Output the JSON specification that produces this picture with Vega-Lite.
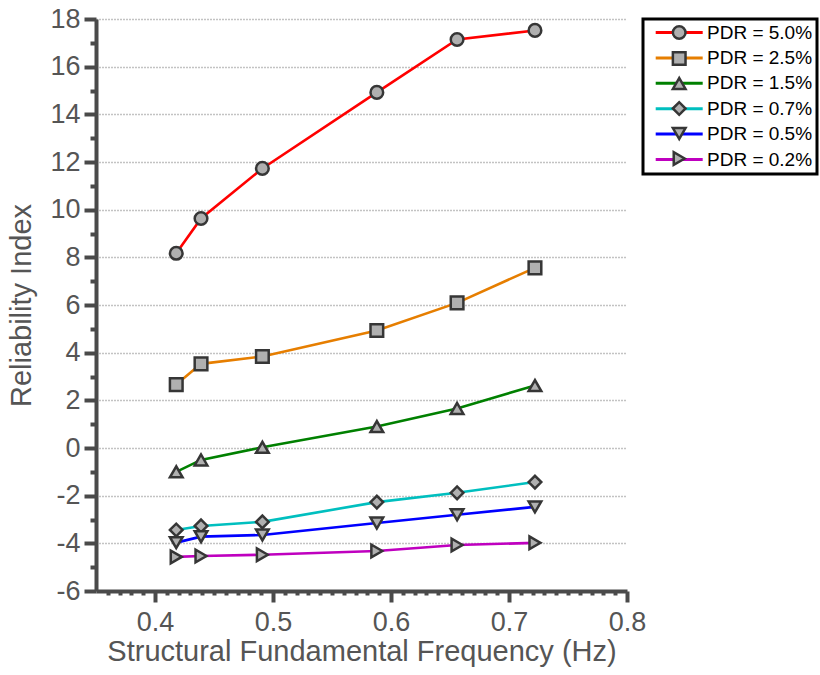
{
  "$schema": "https://vega.github.io/schema/vega-lite/v6.json",
  "width": 531,
  "height": 572,
  "autosize": {"type": "none"},
  "padding": {"left": 96, "top": 19, "right": 193, "bottom": 84},
  "background": "white",
  "config": {
    "view": {"stroke": null},
    "font": "Liberation Sans"
  },
  "data": {
    "values": [
      {"series": "PDR = 5.0%", "freq": 0.418, "beta": 8.17},
      {"series": "PDR = 5.0%", "freq": 0.439, "beta": 9.63},
      {"series": "PDR = 5.0%", "freq": 0.491, "beta": 11.73},
      {"series": "PDR = 5.0%", "freq": 0.588, "beta": 14.92},
      {"series": "PDR = 5.0%", "freq": 0.656, "beta": 17.14},
      {"series": "PDR = 5.0%", "freq": 0.722, "beta": 17.52},
      {"series": "PDR = 2.5%", "freq": 0.418, "beta": 2.66},
      {"series": "PDR = 2.5%", "freq": 0.439, "beta": 3.53},
      {"series": "PDR = 2.5%", "freq": 0.491, "beta": 3.84},
      {"series": "PDR = 2.5%", "freq": 0.588, "beta": 4.93},
      {"series": "PDR = 2.5%", "freq": 0.656, "beta": 6.09},
      {"series": "PDR = 2.5%", "freq": 0.722, "beta": 7.56},
      {"series": "PDR = 1.5%", "freq": 0.418, "beta": -1.0},
      {"series": "PDR = 1.5%", "freq": 0.439, "beta": -0.5},
      {"series": "PDR = 1.5%", "freq": 0.491, "beta": 0.03},
      {"series": "PDR = 1.5%", "freq": 0.588, "beta": 0.9},
      {"series": "PDR = 1.5%", "freq": 0.656, "beta": 1.66},
      {"series": "PDR = 1.5%", "freq": 0.722, "beta": 2.62},
      {"series": "PDR = 0.7%", "freq": 0.418, "beta": -3.44},
      {"series": "PDR = 0.7%", "freq": 0.439, "beta": -3.27},
      {"series": "PDR = 0.7%", "freq": 0.491, "beta": -3.1},
      {"series": "PDR = 0.7%", "freq": 0.588, "beta": -2.27},
      {"series": "PDR = 0.7%", "freq": 0.656, "beta": -1.88},
      {"series": "PDR = 0.7%", "freq": 0.722, "beta": -1.43},
      {"series": "PDR = 0.5%", "freq": 0.418, "beta": -3.97},
      {"series": "PDR = 0.5%", "freq": 0.439, "beta": -3.72},
      {"series": "PDR = 0.5%", "freq": 0.491, "beta": -3.65},
      {"series": "PDR = 0.5%", "freq": 0.588, "beta": -3.15},
      {"series": "PDR = 0.5%", "freq": 0.656, "beta": -2.8},
      {"series": "PDR = 0.5%", "freq": 0.722, "beta": -2.47},
      {"series": "PDR = 0.2%", "freq": 0.418, "beta": -4.57},
      {"series": "PDR = 0.2%", "freq": 0.439, "beta": -4.53},
      {"series": "PDR = 0.2%", "freq": 0.491, "beta": -4.48},
      {"series": "PDR = 0.2%", "freq": 0.588, "beta": -4.32},
      {"series": "PDR = 0.2%", "freq": 0.656, "beta": -4.07},
      {"series": "PDR = 0.2%", "freq": 0.722, "beta": -3.98}
    ]
  },
  "encoding": {
    "x": {
      "field": "freq",
      "type": "quantitative",
      "scale": {"domain": [0.35, 0.8], "nice": false, "zero": false},
      "axis": {
        "title": "Structural Fundamental Frequency (Hz)",
        "values": [0.36, 0.37, 0.38, 0.39, 0.4, 0.41, 0.42, 0.43, 0.44, 0.45, 0.46, 0.47, 0.48, 0.49, 0.5, 0.51, 0.52, 0.53, 0.54, 0.55, 0.56, 0.57, 0.58, 0.59, 0.6, 0.61, 0.62, 0.63, 0.64, 0.65, 0.66, 0.67, 0.68, 0.69, 0.7, 0.71, 0.72, 0.73, 0.74, 0.75, 0.76, 0.77, 0.78, 0.79, 0.8],
        "labelExpr": "abs(datum.value*10 - round(datum.value*10)) < 0.0001 ? format(datum.value, '.1f') : ''",
        "tickSize": {"condition": {"test": "abs(datum.value*10 - round(datum.value*10)) < 0.0001", "value": 11}, "value": 4},
        "tickWidth": 4,
        "tickColor": "#4a4a4a",
        "domainColor": "#4a4a4a",
        "domainWidth": 4,
        "grid": false,
        "labelOverlap": false,
        "labelFlush": false,
        "labelFontSize": 27,
        "labelColor": "#555555",
        "labelPadding": 7,
        "titleFontSize": 29,
        "titleFontWeight": "normal",
        "titleColor": "#555555",
        "titlePadding": 2
      }
    },
    "y": {
      "field": "beta",
      "type": "quantitative",
      "scale": {"domain": [-6, 18], "nice": false, "zero": false},
      "axis": {
        "title": "Reliability Index",
        "values": [-6, -5, -4, -3, -2, -1, 0, 1, 2, 3, 4, 5, 6, 7, 8, 9, 10, 11, 12, 13, 14, 15, 16, 17, 18],
        "labelExpr": "datum.value % 2 == 0 ? '' + datum.value : ''",
        "tickSize": {"condition": {"test": "datum.value % 2 == 0", "value": 12}, "value": 6},
        "tickWidth": 4,
        "tickColor": "#4a4a4a",
        "domainColor": "#4a4a4a",
        "domainWidth": 4,
        "grid": true,
        "gridDash": [1, 2],
        "gridColor": "#888888",
        "gridWidth": 1.5,
        "gridOpacity": {"condition": {"test": "datum.value % 2 == 0 && datum.value > -6", "value": 1}, "value": 0},
        "labelOverlap": false,
        "labelFontSize": 27,
        "labelColor": "#555555",
        "labelPadding": 4,
        "titleFontSize": 29,
        "titleFontWeight": "normal",
        "titleColor": "#555555",
        "titlePadding": 13
      }
    }
  },
  "layer": [
    {
      "mark": {"type": "line", "interpolate": "linear", "strokeWidth": 2.6},
      "encoding": {
        "color": {
          "field": "series",
          "type": "nominal",
          "sort": ["PDR = 5.0%", "PDR = 2.5%", "PDR = 1.5%", "PDR = 0.7%", "PDR = 0.5%", "PDR = 0.2%"],
          "scale": {"range": ["#ff0000", "#e67e00", "#008000", "#00bfbf", "#0000ff", "#bf00bf"]},
          "legend": {
            "orient": "none",
            "legendX": 547,
            "legendY": 0,
            "title": null,
            "symbolType": "M-4.7,0H4.7",
            "symbolSize": 100,
            "symbolStrokeWidth": 3,
            "padding": 4,
            "rowPadding": 5.4,
            "symbolOffset": 22.7,
            "labelOffset": 18.3,
            "labelFontSize": 19,
            "labelColor": "#000000",
            "labelLimit": 300,
            "strokeColor": "#000000",
            "fillColor": "#ffffff",
            "cornerRadius": 0,
            "encode": {"legend": {"update": {"strokeWidth": {"value": 3}}}}
          }
        }
      }
    },
    {
      "mark": {"type": "point", "filled": true, "fill": "#b0b0b0", "strokeWidth": 2.5, "size": 160, "opacity": 1},
      "encoding": {
        "shape": {
          "field": "series",
          "type": "nominal",
          "scale": {
            "domain": ["PDR = 5.0%", "PDR = 2.5%", "PDR = 1.5%", "PDR = 0.7%", "PDR = 0.5%", "PDR = 0.2%"],
            "range": ["circle", "square", "triangle-up", "diamond", "triangle-down", "triangle-right"]
          },
          "legend": {
            "orient": "none",
            "legendX": 547,
            "legendY": 0,
            "title": null,
            "symbolSize": 160,
            "symbolFillColor": "#b0b0b0",
            "symbolStrokeWidth": 2.5,
            "padding": 4,
            "rowPadding": 3,
            "symbolOffset": 22.7,
            "labelOffset": 18.3,
            "labelFontSize": 19,
            "labelOpacity": 0,
            "labelLimit": 300
          }
        },
        "stroke": {
          "field": "series",
          "type": "nominal",
          "scale": {
            "domain": ["PDR = 5.0%", "PDR = 2.5%", "PDR = 1.5%", "PDR = 0.7%", "PDR = 0.5%", "PDR = 0.2%"],
            "range": ["#363636", "#363636", "#363636", "#363636", "#363636", "#363636"]
          },
          "legend": {
            "orient": "none",
            "legendX": 547,
            "legendY": 0,
            "title": null,
            "symbolSize": 160,
            "symbolFillColor": "#b0b0b0",
            "symbolStrokeWidth": 2.5,
            "padding": 4,
            "rowPadding": 3,
            "symbolOffset": 22.7,
            "labelOffset": 18.3,
            "labelFontSize": 19,
            "labelOpacity": 0,
            "labelLimit": 300
          }
        }
      }
    }
  ]
}
